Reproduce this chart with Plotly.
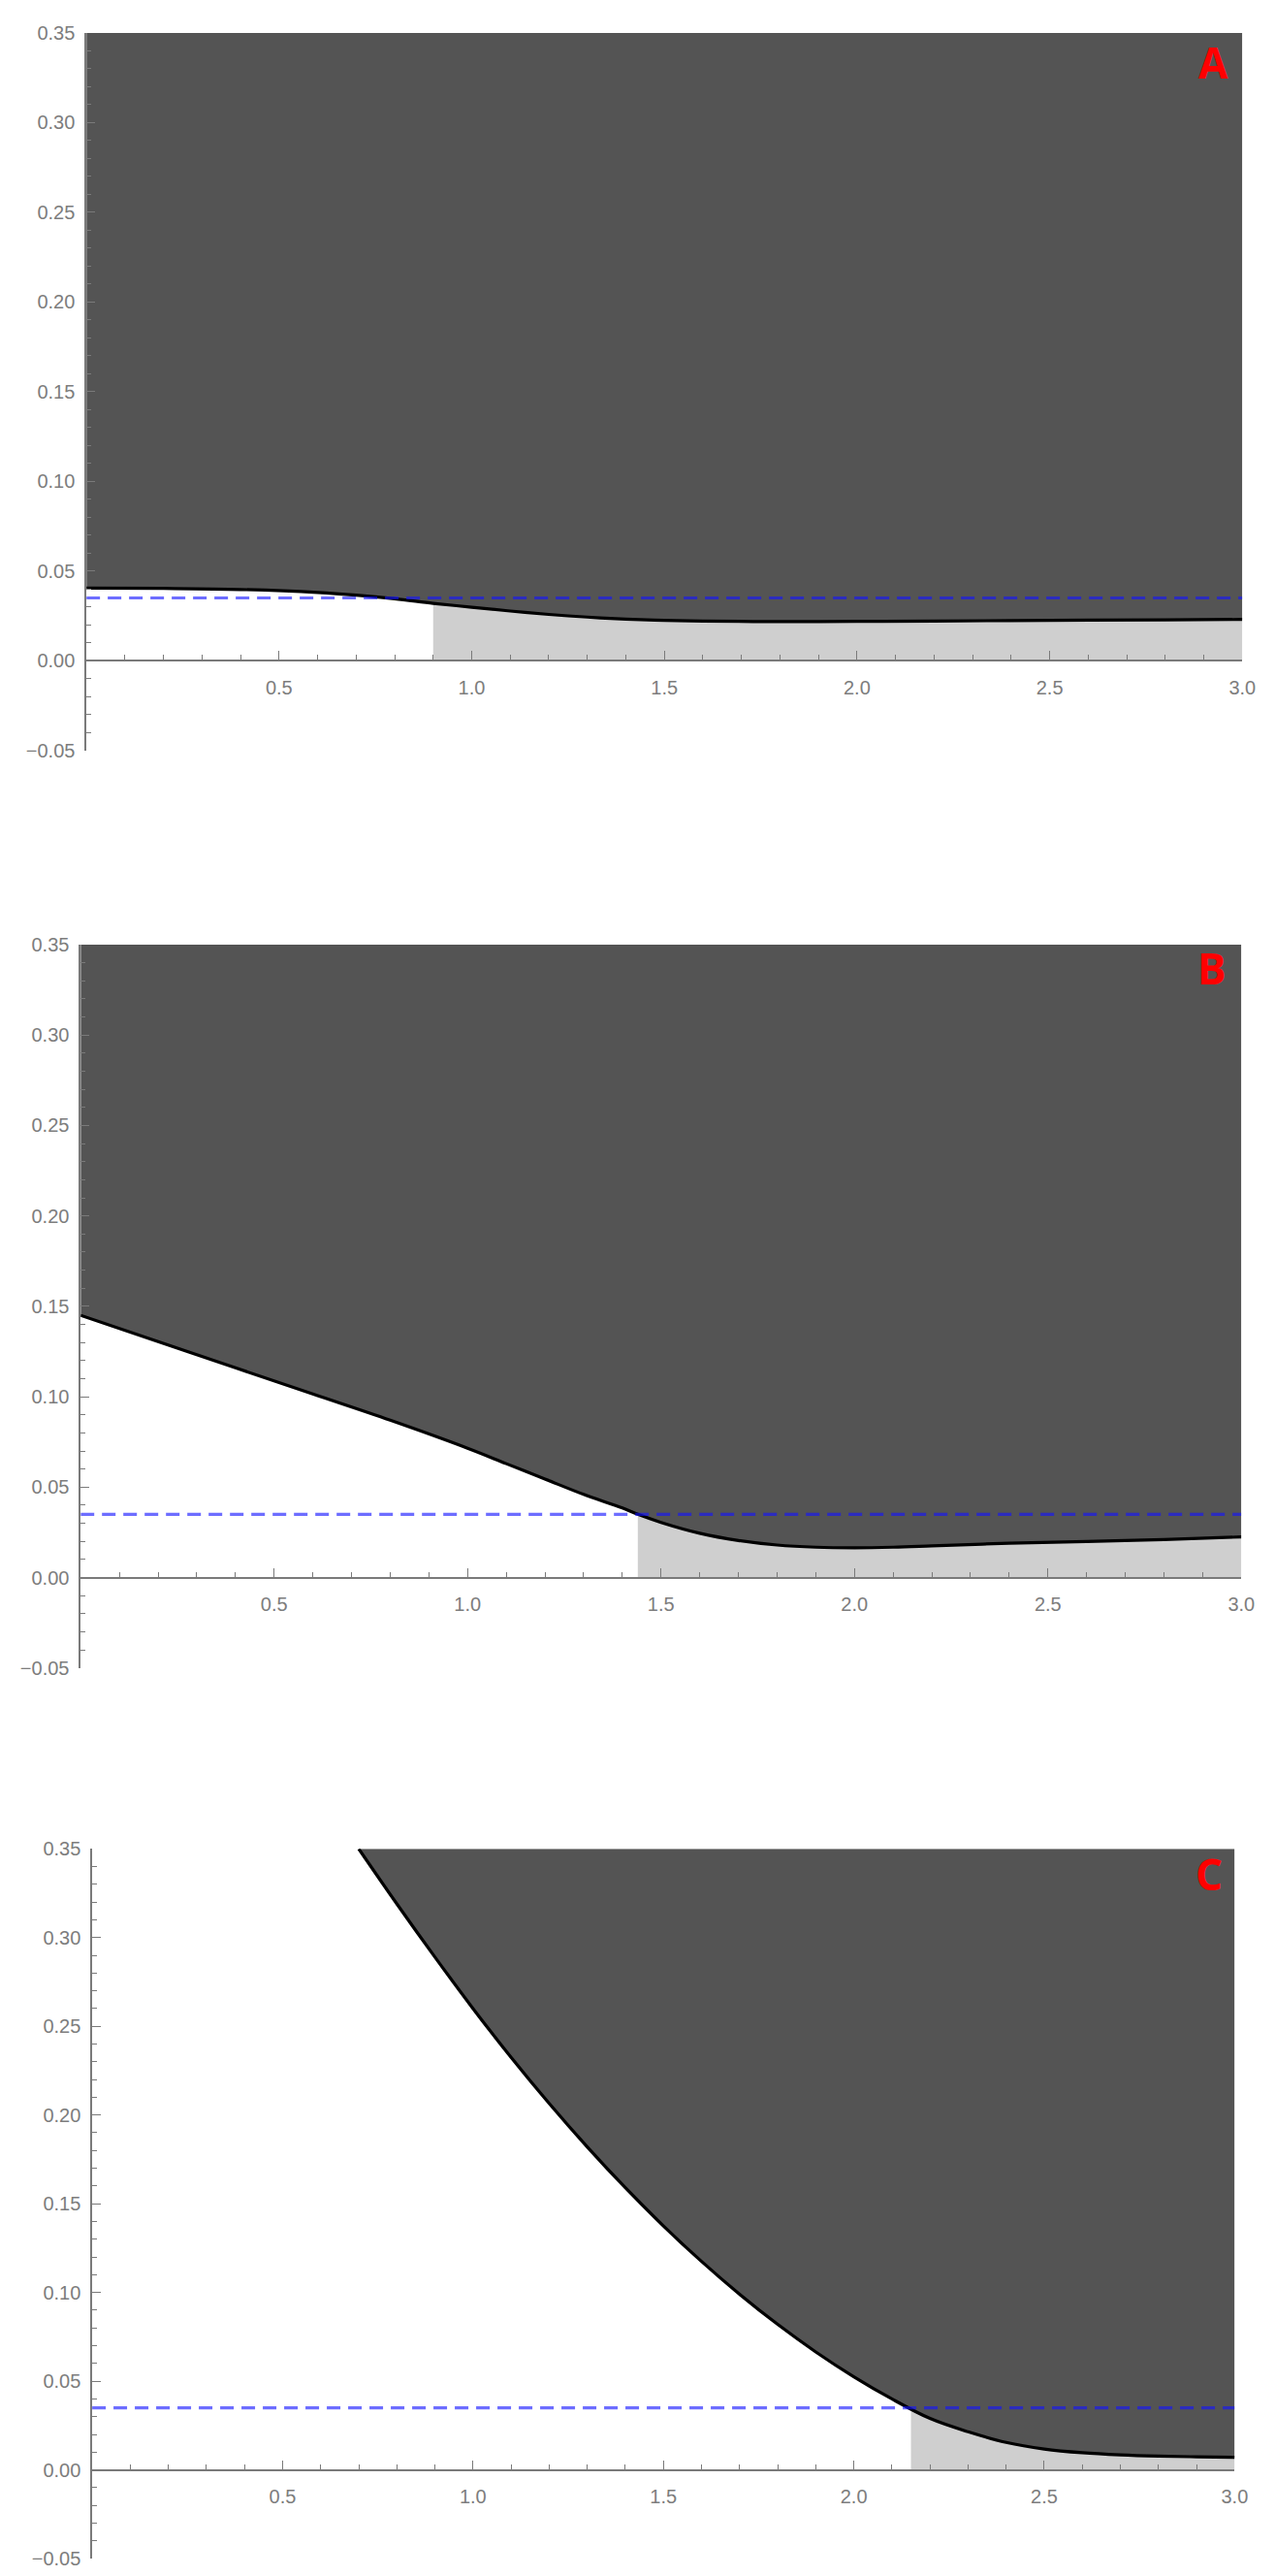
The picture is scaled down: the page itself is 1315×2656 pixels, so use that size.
import numpy as np
import plotly.graph_objects as go

# ---------------- data ----------------
threshold = 0.035
y_min, y_max = -0.05, 0.35
x_min, x_max = 0.0, 3.0

# Panel A
xA = [0, 0.2, 0.4, 0.6, 0.7, 0.8, 0.9, 1.0, 1.1, 1.2, 1.3, 1.4, 1.5, 1.6, 1.8, 2.0, 2.2, 2.5, 2.8, 3.0]
yA = [0.0405, 0.0403, 0.0397, 0.0380, 0.0365, 0.0345, 0.0320, 0.0298, 0.0277, 0.0258, 0.0243, 0.0232,
      0.0225, 0.0221, 0.0218, 0.0219, 0.0221, 0.0225, 0.0228, 0.0230]
startA = 0.9

# Panel B
xB = [0, 0.2, 0.4, 0.6, 0.8, 1.0, 1.1, 1.2, 1.3, 1.4, 1.44, 1.5, 1.6, 1.7, 1.8, 1.9, 2.0, 2.1, 2.2,
      2.4, 2.6, 2.8, 3.0]
yB = [0.145, 0.1305, 0.116, 0.1015, 0.087, 0.0715, 0.063, 0.0545, 0.046, 0.0385, 0.035, 0.0305,
      0.0245, 0.0205, 0.018, 0.0168, 0.0165, 0.0168, 0.0175, 0.019, 0.020, 0.021, 0.0225]
startB = 1.44

# Panel C
xC = [0.70, 0.8, 0.9, 1.0, 1.1, 1.2, 1.3, 1.4, 1.5, 1.6, 1.7, 1.8, 1.9, 2.0, 2.1, 2.2, 2.3,
      2.4, 2.5, 2.6, 2.7, 2.8, 2.9, 3.0]
yC = [0.350, 0.319, 0.289, 0.260, 0.2325, 0.2065, 0.182, 0.159, 0.1375, 0.1175, 0.099, 0.082, 0.0665,
      0.0525, 0.040, 0.029, 0.0215, 0.0155, 0.0118, 0.0097, 0.0085, 0.0078, 0.0074, 0.0071]
startC = 2.15

panel_labels = ["A", "B", "C"]
x_tick_vals = [0.5, 1.0, 1.5, 2.0, 2.5, 3.0]
x_tick_text = ["0.5", "1.0", "1.5", "2.0", "2.5", "3.0"]
y_tick_vals = [-0.05, 0.0, 0.05, 0.10, 0.15, 0.20, 0.25, 0.30, 0.35]
y_tick_text = ["\u22120.05", "0.00", "0.05", "0.10", "0.15", "0.20", "0.25", "0.30", "0.35"]

# ---------------- layout geometry (pixels) ----------------
W, H = 1315, 2656
# (left, right, top, bottom) in pixels for each plot frame
frames = [(82, 1287, 15, 761), (76, 1286, 963, 1715), (88, 1279, 1903, 2641)]
label_pos = [(1257, 45), (1255, 987), (1252, 1929)]

DARK = "#545454"
LIGHT = "#cfcfcf"
AXIS = "#7a7a7a"
TICKFONT = dict(family="Liberation Sans, Arial, sans-serif", size=20, color="#7d7d7d")

fig = go.Figure()
series = [(xA, yA, startA), (xB, yB, startB), (xC, yC, startC)]

for i, ((xs, ys, start), (l, r, t, b)) in enumerate(zip(series, frames)):
    sfx = "" if i == 0 else str(i + 1)
    xa, ya = "x" + sfx, "y" + sfx
    xs = np.asarray(xs, float)
    ys = np.asarray(ys, float)
    common = dict(hoverinfo="skip", showlegend=False, xaxis=xa, yaxis=ya)

    # dark region between the curve and the top of the plot
    fig.add_trace(go.Scatter(x=xs, y=np.full(len(xs), y_max), mode="lines",
                             line=dict(width=0, color=DARK), **common))
    fig.add_trace(go.Scatter(x=xs, y=ys, mode="lines", fill="tonexty", fillcolor=DARK,
                             line=dict(width=0, color=DARK, shape="spline", smoothing=1.0), **common))

    # light gray region under the curve from start to end
    ys_start = float(np.interp(start, xs, ys))
    mask = xs > start
    gx = np.concatenate([[start], xs[mask]])
    gy = np.concatenate([[ys_start], ys[mask]])
    fig.add_trace(go.Scatter(x=gx, y=np.zeros(len(gx)), mode="lines",
                             line=dict(width=0, color=LIGHT), **common))
    fig.add_trace(go.Scatter(x=gx, y=gy, mode="lines", fill="tonexty", fillcolor=LIGHT,
                             line=dict(width=0, color=LIGHT, shape="spline", smoothing=1.0), **common))

    # boundary curve
    fig.add_trace(go.Scatter(x=xs, y=ys, mode="lines",
                             line=dict(color="black", width=3.2, shape="spline", smoothing=1.0),
                             **common))

    # threshold dashed line
    fig.add_trace(go.Scatter(x=[x_min, x_max], y=[threshold, threshold], mode="lines",
                             line=dict(color="rgba(20,20,255,0.62)", width=3.2, dash="14px,8px"),
                             **common))

    xdom = [l / W, r / W]
    ydom = [1 - b / H, 1 - t / H]
    zero_pos = ydom[0] + (ydom[1] - ydom[0]) * (0 - y_min) / (y_max - y_min)

    fig.layout["xaxis" + sfx] = dict(
        domain=xdom, range=[x_min, x_max], anchor="free", position=zero_pos,
        showgrid=False, zeroline=False, showline=True, linecolor=AXIS, linewidth=1.5,
        tickmode="array", tickvals=x_tick_vals, ticktext=x_tick_text,
        ticks="inside", ticklen=9, tickwidth=1.3, tickcolor=AXIS,
        minor=dict(tickmode="linear", tick0=0, dtick=0.1, ticks="inside", ticklen=5,
                   tickwidth=1.2, tickcolor=AXIS),
        tickfont=TICKFONT, ticklabelstandoff=10, layer="above traces", fixedrange=True,
    )
    fig.layout["yaxis" + sfx] = dict(
        domain=ydom, range=[y_min, y_max], anchor=xa,
        showgrid=False, zeroline=False, showline=True, linecolor=AXIS, linewidth=1.5,
        tickmode="array", tickvals=y_tick_vals, ticktext=y_tick_text,
        ticks="inside", ticklen=9, tickwidth=1.3, tickcolor=AXIS,
        minor=dict(tickmode="linear", tick0=0, dtick=0.01, ticks="inside", ticklen=5,
                   tickwidth=1.2, tickcolor=AXIS),
        tickfont=TICKFONT, ticklabelstandoff=6, layer="above traces", fixedrange=True,
    )

    lx, ly = label_pos[i]
    fig.add_annotation(x=lx / W, y=1 - ly / H, xref="paper", yref="paper",
                       text="<b>" + panel_labels[i] + "</b>", showarrow=False,
                       xanchor="center", yanchor="middle",
                       font=dict(family="Open Sans, Liberation Sans, sans-serif", size=44, color="#ff0000"))

fig.update_layout(width=W, height=H, margin=dict(l=0, r=0, t=0, b=0),
                  paper_bgcolor="white", plot_bgcolor="rgba(0,0,0,0)", showlegend=False)

fig.write_html("out.html")
